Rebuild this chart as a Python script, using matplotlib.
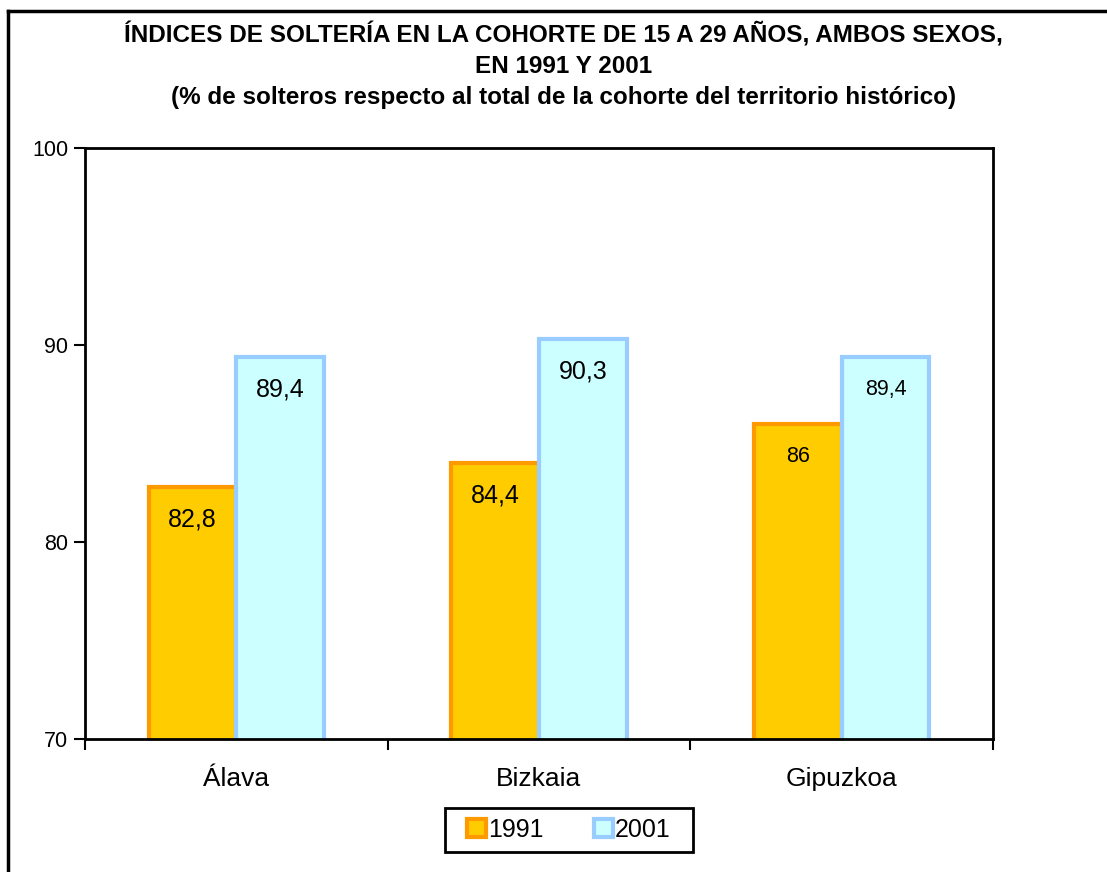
import matplotlib.pyplot as plt
import numpy as np

plt.rcParams['font.family'] = ['Liberation Sans', 'DejaVu Sans']

# Datos
territorios = ['Álava', 'Bizkaia', 'Gipuzkoa']
anios = ['1991', '2001']
valores_1991 = [82.8, 84.0, 86.0]
valores_2001 = [89.4, 90.3, 89.4]
etiquetas_1991 = ['82,8', '84,4', '86']
etiquetas_2001 = ['89,4', '90,3', '89,4']
tam_etiquetas = [18, 18, 15.5]

titulo = ('ÍNDICES DE SOLTERÍA EN LA COHORTE DE 15 A 29 AÑOS, AMBOS SEXOS,\n'
          'EN 1991 Y 2001\n'
          '(% de solteros respecto al total de la cohorte del territorio histórico)')

fig = plt.figure(figsize=(11.07, 8.72), dpi=100)
ax = fig.add_axes([85 / 1107, 1 - 739 / 872, (993 - 85) / 1107, (739 - 148) / 872])

x = np.arange(len(territorios))
ancho = 0.29
b1 = ax.bar(x - ancho / 2, valores_1991, ancho, color='#FFCC00',
            edgecolor='#FF9900', linewidth=3, label=anios[0])
b2 = ax.bar(x + ancho / 2, valores_2001, ancho, color='#CCFFFF',
            edgecolor='#99CCFF', linewidth=3, label=anios[1])

for i in range(len(territorios)):
    ax.text(x[i] - ancho / 2, valores_1991[i] - 1.65, etiquetas_1991[i],
            ha='center', va='center', fontsize=tam_etiquetas[i])
    ax.text(x[i] + ancho / 2, valores_2001[i] - 1.65, etiquetas_2001[i],
            ha='center', va='center', fontsize=tam_etiquetas[i])

ax.set_ylim(70, 100)
ax.set_xlim(-0.5, 2.5)
ax.set_yticks([70, 80, 90, 100])
ax.tick_params(axis='y', labelsize=15.5, length=8, width=1.5, direction='out', pad=4)
ax.set_xticks(x)
ax.set_xticklabels(territorios, fontsize=19)
ax.tick_params(axis='x', length=0, pad=20)
ax.set_xticks([-0.5, 0.5, 1.5, 2.5], minor=True)
ax.tick_params(axis='x', which='minor', length=8, width=1.5, direction='out')
for s in ax.spines.values():
    s.set_linewidth(2)

fig.text(0.509, 1 - 22 / 872, titulo, ha='center', va='top', fontsize=17.5,
         fontweight='bold', linespacing=1.45)

leg = fig.legend(handles=[b1, b2], loc='center', bbox_to_anchor=(569 / 1107, 1 - 830 / 872),
                 ncol=2, fontsize=18, frameon=False,
                 handlelength=0.75, handleheight=0.75, handletextpad=0.1, columnspacing=2.0)
# Recuadro de la leyenda
fig.add_artist(plt.Rectangle((445 / 1107, 1 - 852 / 872), 248 / 1107, 44 / 872,
                             transform=fig.transFigure, fill=False, edgecolor='black', lw=2))

# Marco exterior (solo izquierda y arriba visibles)
fig.add_artist(plt.Line2D([8 / 1107, 8 / 1107], [0, 1 - 11 / 872], color='black', lw=2.5))
fig.add_artist(plt.Line2D([8 / 1107, 1], [1 - 11 / 872, 1 - 11 / 872], color='black', lw=2.5))

fig.savefig('out.png', dpi=100)
